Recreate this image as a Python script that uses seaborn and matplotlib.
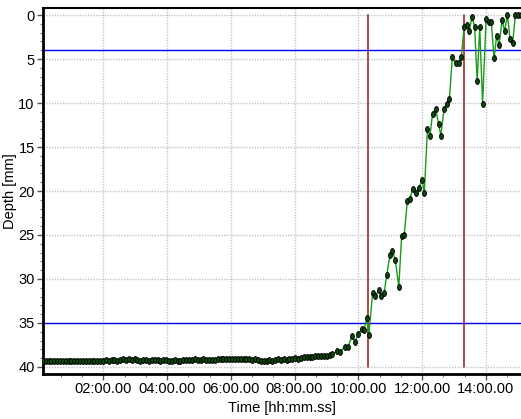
import numpy as np
import pandas as pd
import matplotlib
matplotlib.use("Agg")
import matplotlib.pyplot as plt
from matplotlib.path import Path
from matplotlib.transforms import Affine2D
from matplotlib.ticker import MultipleLocator, FuncFormatter
import seaborn as sns

# ---- data (time in minutes, depth in mm) ----
flat_time = [0.10, 0.19, 0.28, 0.37, 0.46, 0.55, 0.64, 0.73, 0.82, 0.91,
             1.00, 1.09, 1.18, 1.27, 1.36, 1.45, 1.54, 1.63, 1.72, 1.81,
             1.90, 1.99, 2.08, 2.17, 2.26, 2.35, 2.44, 2.53, 2.62, 2.71,
             2.80, 2.89, 2.98, 3.07, 3.16, 3.25, 3.34, 3.43, 3.52, 3.61,
             3.70, 3.79, 3.88, 3.97, 4.06, 4.15, 4.24, 4.33, 4.42, 4.51,
             4.60, 4.69, 4.78, 4.87, 4.96, 5.05, 5.14, 5.23, 5.32, 5.41,
             5.50, 5.59, 5.68, 5.77, 5.86, 5.95, 6.04, 6.13, 6.22, 6.31,
             6.40, 6.49, 6.58, 6.67, 6.76, 6.85, 6.94, 7.03, 7.12, 7.21,
             7.30, 7.39, 7.48, 7.57, 7.66, 7.75, 7.84, 7.93, 8.02, 8.11,
             8.20, 8.29, 8.38, 8.47, 8.56, 8.65, 8.74, 8.83, 8.92, 9.01,
             9.10, 9.19]
flat_depth = [39.3, 39.35, 39.3, 39.3, 39.35, 39.3, 39.3, 39.35, 39.3, 39.3,
              39.3, 39.35, 39.3, 39.3, 39.3, 39.35, 39.3, 39.3, 39.35, 39.3,
              39.3, 39.3, 39.25, 39.3, 39.2, 39.25, 39.3, 39.2, 39.15, 39.25,
              39.15, 39.2, 39.15, 39.25, 39.3, 39.25, 39.25, 39.3, 39.25, 39.2,
              39.25, 39.3, 39.2, 39.25, 39.3, 39.3, 39.25, 39.3, 39.3, 39.2,
              39.25, 39.2, 39.25, 39.15, 39.2, 39.2, 39.15, 39.2, 39.25, 39.2,
              39.2, 39.15, 39.1, 39.15, 39.1, 39.1, 39.15, 39.1, 39.1, 39.15,
              39.1, 39.15, 39.1, 39.2, 39.15, 39.25, 39.3, 39.35, 39.3, 39.25,
              39.3, 39.2, 39.15, 39.2, 39.15, 39.2, 39.1, 39.05, 39.0, 39.05,
              38.95, 38.9, 38.9, 38.85, 38.85, 38.8, 38.8, 38.75, 38.75, 38.7,
              38.65, 38.5]

rise_time = [9.33, 9.43, 9.58, 9.68, 9.80, 9.90, 9.99, 10.12, 10.18, 10.27, 10.33,
             10.45, 10.53, 10.64, 10.71, 10.81, 10.89, 10.99, 11.07, 11.16, 11.27,
             11.36, 11.44, 11.54, 11.61, 11.71, 11.81, 11.90, 12.00, 12.07,
             12.17, 12.25, 12.33, 12.43, 12.52, 12.59, 12.69, 12.77, 12.86, 12.95,
             13.06, 13.15, 13.23, 13.32, 13.40, 13.48, 13.57, 13.65, 13.73, 13.81,
             13.90, 14.01, 14.09, 14.17, 14.26, 14.34, 14.42, 14.51, 14.59, 14.68,
             14.76, 14.84, 14.93, 15.01, 15.10]
rise_depth = [38.2, 38.3, 37.7, 37.7, 36.5, 37.15, 36.3, 35.7, 35.8, 34.4, 36.4,
              31.6, 31.95, 31.3, 31.9, 31.6, 29.6, 27.3, 26.8, 27.8, 30.9,
              25.1, 25.0, 21.1, 20.9, 19.8, 20.2, 19.7, 18.7, 20.2,
              13.0, 13.7, 11.2, 10.7, 12.4, 13.7, 10.7, 10.1, 9.5, 4.8,
              5.5, 5.5, 4.8, 1.35, 1.1, 1.8, 0.2, 1.35, 7.5, 1.4,
              10.1, 0.45, 0.75, 0.75, 4.9, 2.4, 3.4, 0.6, 1.8, 0.0,
              2.7, 3.2, 0.0, 0.0, 0.05]

limit_depths = [4, 35]          # blue horizontal lines
event_times = [10.30, 13.32]    # red vertical lines
y_ticks = [0, 5, 10, 15, 20, 25, 30, 35, 40]
x_ticks = [2, 4, 6, 8, 10, 12, 14]

df = pd.DataFrame({"time": flat_time + rise_time,
                   "depth": flat_depth + rise_depth})

# ---- style ----
sns.set_theme(style="white")
plt.rcParams["font.family"] = ["Liberation Sans Narrow", "Liberation Sans", "DejaVu Sans"]

fig = plt.figure(figsize=(5.21, 4.19), dpi=100)
ax = fig.add_axes([43 / 521, (419 - 374) / 419, 1 - 43 / 521, (374 - 8) / 419])

# grid
ax.grid(True, which="major", linestyle=(0, (1, 1)), color="#c4c4c4", linewidth=1.0)

# reference lines
for d in limit_depths:
    ax.axhline(d, color="#0000ff", linewidth=1.0, zorder=2)
for t in event_times:
    ax.plot([t, t], [0, 40], color="#9e2a2a", linewidth=1.2, zorder=2)

ell = Path.unit_circle().transformed(Affine2D().scale(0.65, 1.0))
sns.lineplot(data=df, x="time", y="depth", ax=ax, color="#1a9a1a", linewidth=1.0,
             marker=ell, markersize=4.2, markerfacecolor="#0b4d0b",
             markeredgecolor="#000000", markeredgewidth=0.7, zorder=3,
             estimator=None, sort=False)

ax.set_xlim(0.107, 15.105)
ax.set_ylim(40.8, -0.8)

ax.xaxis.set_major_locator(plt.FixedLocator(x_ticks))
ax.xaxis.set_minor_locator(MultipleLocator(2 / 3))
ax.xaxis.set_major_formatter(FuncFormatter(lambda v, p: "%02d:00.00" % int(round(v))))
ax.yaxis.set_major_locator(plt.FixedLocator(y_ticks))
ax.yaxis.set_minor_locator(MultipleLocator(1))

ax.tick_params(axis="both", which="major", direction="out", length=4, width=1,
               color="#555555", labelsize=10.5, labelcolor="black", pad=2)
ax.tick_params(axis="both", which="minor", direction="out", length=2, width=0.8,
               color="#777777")
ax.tick_params(axis="x", bottom=True, which="both")
ax.tick_params(axis="y", left=True, which="both")

for side in ["left", "bottom"]:
    ax.spines[side].set_color("black")
    ax.spines[side].set_linewidth(2.0)
ax.spines["top"].set_color("black")
ax.spines["top"].set_linewidth(1.5)
ax.spines["right"].set_visible(False)

ax.set_xlabel("Time [hh:mm.ss]", fontsize=10.5, color="black", labelpad=3)
ax.set_ylabel("Depth [mm]", fontsize=10.5, color="black")
ax.yaxis.set_label_coords(-0.054, 0.5)

fig.savefig("out.png", dpi=100)
